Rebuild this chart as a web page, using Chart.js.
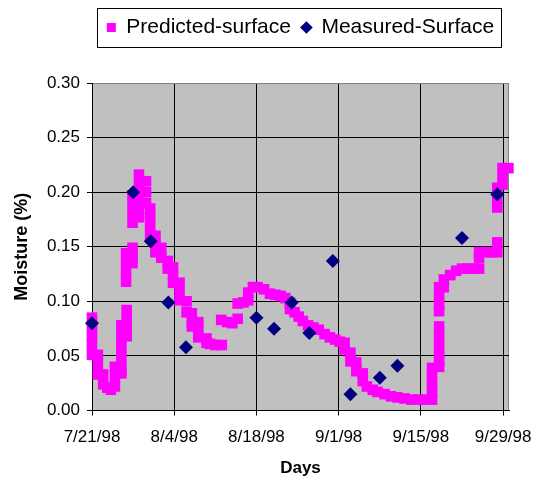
<!DOCTYPE html>
<html>
<head>
<meta charset="utf-8">
<title>Predicted vs measured surface moisture</title>
<script src="https://cdn.jsdelivr.net/npm/chart.js@4.4.1/dist/chart.umd.min.js"></script>
<style>
    body { margin: 0; background: #fff; }
    canvas { display: block; }
</style>
</head>
<body>
<canvas id="moistureChart" width="540" height="482"></canvas>
<script>
// days counted from 7/21/98
const tickDays = [0, 14, 28, 42, 56, 70];
const tickLabels = ["7/21/98", "8/4/98", "8/18/98", "9/1/98", "9/15/98", "9/29/98"];

// predicted surface moisture (many samples per day while it changes fast)
const predDays = [
    0, 0, 0, 0, 0,
    1.0, 1.0, 1.0,
    1.9, 1.9,
    2.6, 3.2,
    3.9, 3.9, 3.9,
    5.0, 5.0, 5.0, 5.0, 5.0, 5.0, 5.0,
    5.9, 5.9, 5.9, 5.9,
    5.8, 5.8, 5.8, 5.8,
    6.9, 6.9, 6.9,
    6.9, 6.9, 6.9, 6.9,
    8.0, 8.0, 8.0, 8.0, 8.0, 8.0,
    9.2, 9.2, 9.2,
    9.9, 9.9, 9.9, 9.9,
    10.8, 10.8, 10.8,
    11.8, 11.8,
    12.9, 12.9,
    13.8, 13.8, 13.8,
    14.9, 14.9, 14.9,
    16.1, 16.1,
    17.0, 17.0, 17.0,
    18.1, 18.1, 18.1,
    19.5, 19.5,
    20.1, 21.0, 22.1,
    22.0, 23.0, 23.9,
    24.8, 24.8,
    25.8,
    26.6, 26.6,
    27.4, 28.2, 29.3, 30.3, 31.2, 32.1, 32.9,
    33.7, 33.7,
    34.5, 35.2, 35.9, 36.8, 37.7, 38.6, 39.6, 40.5, 41.4, 42.2,
    43.0, 43.0,
    44.0, 44.0,
    45.0, 45.0,
    46.1, 46.1,
    46.8, 47.8, 48.6, 49.8, 50.9, 52.0, 53.2, 54.4, 55.5, 56.6,
    57.9, 57.9, 57.9, 57.9, 57.9,
    59.1, 59.1, 59.1, 59.1, 59.1, 59.1,
    59.1, 59.1, 59.1, 59.1,
    59.9, 59.9,
    61.0, 62.0, 63.0, 64.0, 65.0,
    65.9, 65.9, 65.9,
    67.0, 68.0,
    69.0, 69.0,
    69.0, 69.0, 69.0,
    69.9, 69.9, 69.9,
    70.9,
];
const predMoisture = [
    0.085, 0.077, 0.068, 0.060, 0.051,
    0.051, 0.042, 0.033,
    0.033, 0.024,
    0.021, 0.019,
    0.040, 0.031, 0.022,
    0.078, 0.070, 0.062, 0.054, 0.046, 0.038, 0.034,
    0.092, 0.084, 0.076, 0.068,
    0.144, 0.135, 0.126, 0.118,
    0.149, 0.142, 0.135,
    0.197, 0.189, 0.181, 0.172,
    0.216, 0.207, 0.198, 0.189, 0.181, 0.177,
    0.210, 0.200, 0.190,
    0.185, 0.177, 0.169, 0.161,
    0.160, 0.152, 0.145,
    0.149, 0.140,
    0.137, 0.130,
    0.131, 0.124, 0.117,
    0.117, 0.109, 0.101,
    0.100, 0.090,
    0.089, 0.081, 0.077,
    0.081, 0.073, 0.067,
    0.066, 0.062,
    0.061, 0.060, 0.060,
    0.083, 0.081, 0.080,
    0.084, 0.098,
    0.099,
    0.101, 0.108,
    0.113, 0.113, 0.111, 0.107, 0.106, 0.105, 0.103,
    0.099, 0.093,
    0.090, 0.086, 0.082, 0.078, 0.076, 0.074, 0.070, 0.067, 0.065, 0.063,
    0.062, 0.056,
    0.053, 0.045,
    0.044, 0.036,
    0.034, 0.027,
    0.022, 0.019, 0.017, 0.015, 0.013, 0.012, 0.011, 0.010, 0.010, 0.010,
    0.010, 0.016, 0.023, 0.031, 0.039,
    0.040, 0.045, 0.053, 0.061, 0.069, 0.077,
    0.091, 0.097, 0.105, 0.113,
    0.113, 0.120,
    0.124, 0.128, 0.130, 0.130, 0.130,
    0.130, 0.140, 0.145,
    0.145, 0.145,
    0.145, 0.154,
    0.186, 0.195, 0.204,
    0.207, 0.214, 0.222,
    0.222,
];

// measured surface moisture
const measDays = [0, 7, 10, 13, 16, 28, 31, 34, 37, 41, 44, 49, 52, 63, 69];
const measMoisture = [0.080, 0.200, 0.155, 0.099, 0.058, 0.085, 0.075, 0.099, 0.071, 0.137, 0.015, 0.030, 0.041, 0.158, 0.198];

Chart.defaults.font.family = "'Liberation Sans', Arial, sans-serif";
Chart.defaults.color = "#000";

const toPoints = (xs, ys) => xs.map((x, i) => ({ x: x, y: ys[i] }));

// grey plot area with a thin grey frame, like the old spreadsheet charts
const plotBackground = {
    id: "plotBackground",
    beforeDraw(chart) {
        const { ctx, chartArea: a } = chart;
        ctx.save();
        ctx.fillStyle = "#C0C0C0";
        ctx.fillRect(a.left, a.top, a.width, a.height);
        ctx.strokeStyle = "#808080";
        ctx.lineWidth = 1;
        const l = Math.round(a.left) + 0.5;
        const t = Math.round(a.top) + 0.5;
        const r = Math.round(a.right) - 0.5;
        const b = Math.round(a.bottom) - 0.5;
        ctx.strokeRect(l, t, r - l, b - t);
        ctx.restore();
    },
};

// extra room under the legend and a box drawn round it
const legendBox = {
    id: "legendBox",
    beforeInit(chart) {
        const fit = chart.legend.fit;
        chart.legend.fit = function () {
            fit.call(this);
            this.height = 77;
        };
    },
    afterDraw(chart) {
        const boxes = chart.legend.legendHitBoxes;
        if (!boxes || !boxes.length) return;
        const first = boxes[0];
        const last = boxes[boxes.length - 1];
        const cy = first.top + first.height / 2;
        const ctx = chart.ctx;
        ctx.save();
        ctx.strokeStyle = "#000";
        ctx.lineWidth = 1;
        const left = Math.round(first.left - 10) + 0.5;
        const right = Math.round(last.left + last.width + 7) + 0.5;
        const top = Math.round(cy - 19.5) + 0.5;
        ctx.strokeRect(left, top, right - left, 39);
        ctx.restore();
    },
};

const ctx = document.getElementById("moistureChart").getContext("2d");

new Chart(ctx, {
    type: "scatter",
    data: {
        datasets: [
            {
                label: "Predicted-surface",
                data: toPoints(predDays, predMoisture),
                pointStyle: "rect",
                pointRadius: 7.5,
                pointHoverRadius: 7.5,
                backgroundColor: "#FF00FF",
                borderColor: "#FF00FF",
                borderWidth: 0,
                clip: false,
                order: 2,
            },
            {
                label: "Measured-Surface",
                data: toPoints(measDays, measMoisture),
                pointStyle: "rectRot",
                pointRadius: 7,
                pointHoverRadius: 7,
                backgroundColor: "#000080",
                borderColor: "#000080",
                borderWidth: 0,
                clip: false,
                order: 1,
            },
        ],
    },
    options: {
        responsive: false,
        animation: false,
        events: [],
        layout: {
            padding: { top: 6, right: 31, bottom: 0, left: 0 },
        },
        plugins: {
            legend: {
                position: "top",
                fullSize: false,
                labels: {
                    usePointStyle: true,
                    boxWidth: 9,
                    boxHeight: 9,
                    padding: 11,
                    color: "#000",
                    font: { size: 21 },
                    sort: (a, b) => a.datasetIndex - b.datasetIndex,
                },
            },
            tooltip: { enabled: false },
        },
        scales: {
            x: {
                type: "linear",
                min: 0,
                max: 71,
                afterBuildTicks: (scale) => {
                    scale.ticks = tickDays.map((d) => ({ value: d }));
                },
                afterFit: (scale) => {
                    scale.height = 71.5;
                    // the last label may hang past the plot edge, as in the original
                    scale.paddingLeft = 0;
                    scale.paddingRight = 0;
                },
                ticks: {
                    callback: (value) => {
                        const i = tickDays.indexOf(value);
                        return i >= 0 ? tickLabels[i] : "";
                    },
                    autoSkip: false,
                    maxRotation: 0,
                    padding: 12,
                    font: { size: 17 },
                },
                grid: {
                    color: "#000",
                    lineWidth: 1,
                    tickLength: 5,
                    tickColor: "#000",
                },
                border: { color: "#000", width: 1 },
                title: {
                    display: true,
                    text: "Days",
                    font: { size: 17, weight: "bold" },
                    padding: { top: 0, bottom: 3 },
                },
            },
            y: {
                min: 0,
                max: 0.3,
                afterFit: (scale) => {
                    scale.width = 92;
                },
                ticks: {
                    stepSize: 0.05,
                    callback: (value) => value.toFixed(2),
                    padding: 7,
                    font: { size: 17 },
                },
                grid: {
                    color: (c) => (c.tick && Math.abs(c.tick.value - 0.3) < 1e-9 ? "#808080" : "#000"),
                    lineWidth: 1,
                    tickLength: 5,
                    tickColor: "#000",
                },
                border: { color: "#000", width: 1 },
                title: {
                    display: true,
                    text: "Moisture (%)",
                    font: { size: 18, weight: "bold" },
                    padding: { top: 11, bottom: 0 },
                },
            },
        },
    },
    plugins: [plotBackground, legendBox],
});
</script>
</body>
</html>
